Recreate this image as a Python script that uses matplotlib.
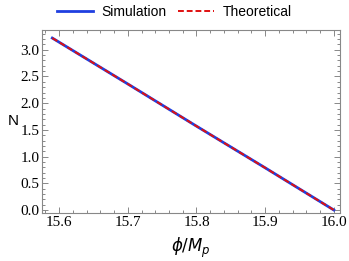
import matplotlib
matplotlib.use("Agg")
import matplotlib.pyplot as plt
from matplotlib.ticker import MultipleLocator

phi_sim = [15.59, 15.70, 15.80, 15.90, 16.00]
N_sim = [3.22, 2.36, 1.57, 0.79, 0.00]
phi_th = [15.59, 15.70, 15.80, 15.90, 16.00]
N_th = [3.22, 2.36, 1.57, 0.79, 0.00]
xticks = [15.6, 15.7, 15.8, 15.9, 16.0]
yticks = [0.0, 0.5, 1.0, 1.5, 2.0, 2.5, 3.0]

plt.rcParams['mathtext.fontset'] = 'dejavusans'
fig = plt.figure(figsize=(3.49, 2.61), dpi=100)
ax = fig.add_axes([42/349, 1-213/261, (340-42)/349, (213-29.5)/261])

ax.plot(phi_sim, N_sim, color='#1f3fe0', lw=2.0, label='Simulation')
ax.plot(phi_th, N_th, color='#e01010', lw=1.4, ls=(0, (3, 1.5)), label='Theoretical')

ax.set_xlim(15.575, 16.009)
ax.set_ylim(-0.056, 3.38)
ax.set_xticks(xticks)
ax.set_yticks(yticks)
ax.set_xticklabels([f"{v:.1f}" for v in xticks], family='Liberation Serif', fontsize=11)
ax.set_yticklabels([f"{v:.1f}" for v in yticks], family='Liberation Serif', fontsize=11)
ax.xaxis.set_minor_locator(MultipleLocator(0.02))
ax.yaxis.set_minor_locator(MultipleLocator(0.1))
ax.tick_params(which='both', direction='in', top=True, right=True, color='#888888', width=0.7, pad=2)
ax.tick_params(which='major', length=4)
ax.tick_params(which='minor', length=2)
for s in ax.spines.values():
    s.set_color('#888888')
    s.set_linewidth(0.8)

ax.set_ylabel('N', family='Liberation Sans', fontsize=11, rotation=0, labelpad=5, va='center')
ax.set_xlabel(r'$\phi/M_p$', fontsize=12, labelpad=5)

fig.legend(loc='center', bbox_to_anchor=(0.5, 1-12/261), ncol=2, frameon=False,
           prop={'family': 'Liberation Sans', 'size': 10}, handlelength=2.6,
           columnspacing=0.8, handletextpad=0.6)

fig.savefig('out.png', dpi=100)
